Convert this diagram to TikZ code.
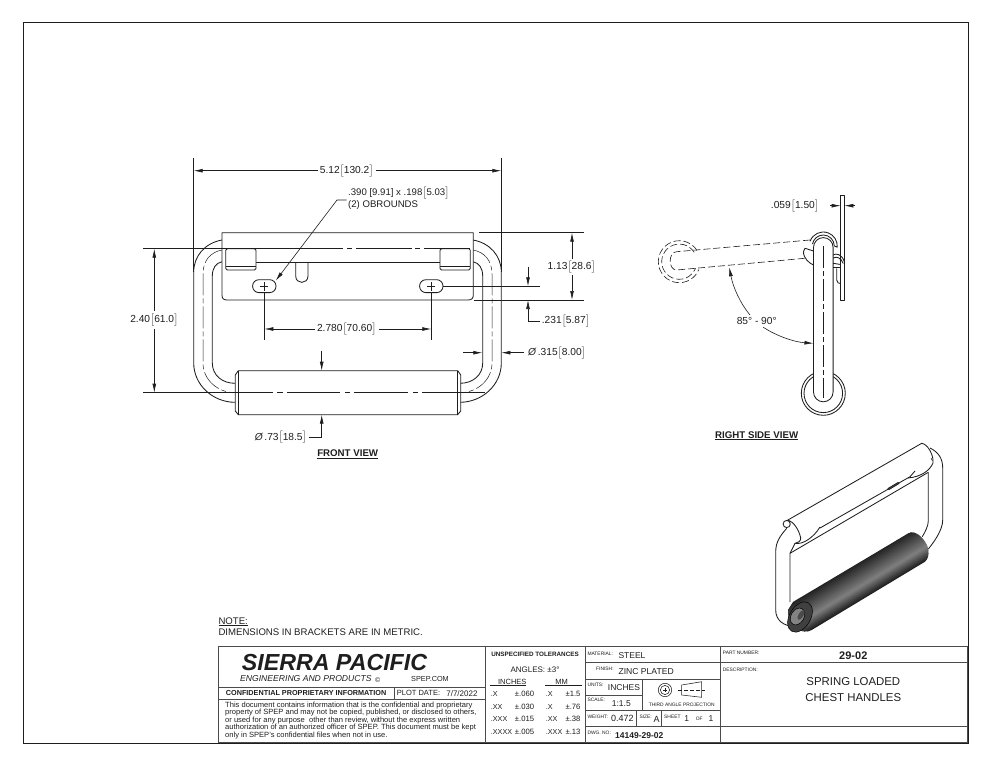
\documentclass[tikz,border=0pt]{standalone}
\usepackage{fontspec}
\setmainfont{Liberation Sans}
\usetikzlibrary{arrows.meta}
\definecolor{ink}{HTML}{1E1E1E}
\tikzset{
  lab/.style={inner sep=0pt,text=ink},
  part/.style={draw=ink,line width=0.85pt,line join=round},
  thin part/.style={draw=ink,line width=0.55pt},
  dimline/.style={draw=ink,line width=0.6pt},
  tip/.style={dimline,-{Latex[length=9pt,width=3.8pt]}},
  hid/.style={draw=ink,line width=0.6pt,dash pattern=on 7pt off 3pt},
  chain/.style={draw=ink,line width=0.5pt,dash pattern=on 22pt off 3pt on 5pt off 3pt},
  rule/.style={draw=ink!80,line width=0.8pt},
}
\newcommand{\lbl}[5]{\node[lab,anchor=#3,font=\fontsize{#4}{#4}\selectfont] (#1) at (#2) {#5};}
\newcommand{\bk}[1]{$\big[$#1$\big]$}
\newcommand{\halfhandle}{%
  \draw[part] (222,240) .. controls (205,243) and (193.7,256) .. (193.7,272) -- (193.7,363)
     .. controls (193.7,385) and (213,402.3) .. (235,402.3);
  \draw[part] (222,261.7) .. controls (216,263) and (212.3,268) .. (212.3,276) -- (212.3,363)
     .. controls (212.3,375) and (222,383.3) .. (235,383.3);
  \draw[chain] (222,250) .. controls (211,252) and (203,260) .. (203,274) -- (203,363)
     .. controls (203,380) and (218,392.7) .. (235,392.7);
}
\newcommand{\tab}[1]{%
  \draw[part,fill=white,rounded corners=1.5pt] (#1,248.7) rectangle +(30.3,21.3);
  \draw[part] (#1,266.7) -- +(30.3,0);
}
\newcommand{\obround}[1]{%
  \draw[part,fill=white,rounded corners=6.3pt] (#1-11.7,279.7) rectangle (#1+11.7,292.6);
  \draw[dimline] (#1-4,286.2) -- (#1+4,286.2) (#1,282) -- (#1,290.5);
}
\begin{document}
\begin{tikzpicture}[x=1pt,y=-1pt]
\useasboundingbox (0,0) rectangle (990,765);
\draw[draw=ink,line width=0.9pt] (23,22) rectangle (968,743);

%% ---------- FRONT VIEW ----------
\halfhandle
\begin{scope}[shift={(695,0)},xscale=-1]\halfhandle\end{scope}
% plate
\draw[part,fill=white] (222,232.7) -- (473.3,232.7) -- (473.3,295) .. controls (473.3,298.5) and (471.5,300) .. (468,300)
   -- (227,300) .. controls (223.5,300) and (222,298.5) .. (222,295) -- cycle;
\draw[part] (256,262.7) -- (440,262.7);
\tab{225.7}
\tab{440}
\draw[part] (295.7,262.7) -- (295.7,276) .. controls (295.7,284.5) and (308,284.5) .. (308,276) -- (308,262.7);
\obround{264.3}
\obround{431.3}
% sleeve
\draw[part,fill=white] (238.3,370.7) -- (457.7,370.7) -- (460.7,375) -- (460.7,411) -- (457.7,414.7)
   -- (238.3,414.7) -- (235.3,411) -- (235.3,375) -- cycle;
\draw[part] (238.3,370.7) -- (238.3,414.7) (457.7,370.7) -- (457.7,414.7);
% centre lines
\draw[dimline] (143,248.7) -- (343,248.7) (347,248.7) -- (352,248.7) (356,248.7) -- (412,248.7) (415,248.7) -- (420,248.7) (424,248.7) -- (470,248.7);
\draw[dimline] (143,392.7) -- (273,392.7) (277,392.7) -- (283,392.7) (287,392.7) -- (340,392.7) (345,392.7) -- (350,392.7) (354,392.7) -- (408,392.7) (413,392.7) -- (418,392.7) (422,392.7) -- (485,392.7);
% extension lines
\draw[dimline] (193.7,158) -- (193.7,272) (501.3,158) -- (501.3,272);
\draw[dimline] (479,232.7) -- (584,232.7) (474,300) -- (584,300);
\draw[dimline] (443,286.3) -- (540,286.3);
\draw[dimline] (264.3,293) -- (264.3,340) (431.3,293) -- (431.3,340);
% labels and dimensions
\lbl{d512}{346.7,170.7}{center}{10.2}{5.12\bk{130.2}}
\draw[tip,shorten <=2pt] (d512.west) -- (193.7,170.7);
\draw[tip,shorten <=2pt] (d512.east) -- (501.3,170.7);
\lbl{dobl}{348,192.7}{west}{9.6}{.390 [9.91] x .198\bk{5.03}}
\lbl{dobr}{348,205}{west}{9.6}{(2) OBROUNDS}
\draw[tip] (346.7,200) -- (337,200) -- (275.7,280.7);
\lbl{d240}{154.3,320}{center}{10.2}{2.40\bk{61.0}}
\draw[tip,shorten <=3pt] (d240.north) -- (154.3,248.7);
\draw[tip,shorten <=3pt] (d240.south) -- (154.3,392.7);
\lbl{d113}{571.7,266.7}{center}{10.2}{1.13\bk{28.6}}
\draw[tip,shorten <=2pt] (d113.north -| 572,258) -- (572,232.7);
\draw[tip,shorten <=2pt] (d113.south -| 572,275) -- (572,300);
\draw[tip] (528,266.7) -- (528,286.3);
\lbl{d231}{541.7,321}{west}{10.2}{.231\bk{5.87}}
\draw[tip] (d231.west) ++(-1.5,0) -- (528,321) -- (528,300);
\lbl{d278}{346.7,329}{center}{10.2}{2.780\bk{70.60}}
\draw[tip,shorten <=2pt] (d278.west) -- (264.3,329);
\draw[tip,shorten <=2pt] (d278.east) -- (431.3,329);
\lbl{d315}{528,352.7}{west}{10.2}{{\itshape Ø}\,.315\bk{8.00}}
\draw[tip,shorten <=4pt] (d315.west) -- (501.3,352.7);
\draw[tip] (463,352.7) -- (482.3,352.7);
\draw[tip] (321.7,350.7) -- (321.7,370.7);
\lbl{d73}{307,437.5}{east}{10.2}{{\itshape Ø}\,.73\bk{18.5}}
\draw[tip,shorten <=2pt] (d73.east) -- (321.7,437.5) -- (321.7,414.7);
\lbl{vfront}{347.7,454}{center}{9.7}{\bfseries\underline{FRONT VIEW}}

%% ---------- RIGHT SIDE VIEW ----------
% swung position
\draw[hid] (679.3,261.7)++(328:21) arc[start angle=328,end angle=22,radius=21];
\draw[hid] (679.3,261.7)++(328:17.6) arc[start angle=328,end angle=22,radius=17.6];
\draw[hid] (810,240) -- (676.7,251.7) .. controls (668,252) and (668,270) .. (676.7,270) -- (808,258);
% sleeve end
\draw[part,fill=white] (823.3,393.3) circle[radius=22];
\draw[part,fill=white] (823.3,393.3) circle[radius=19.3];
% bar
\draw[part,fill=white] (813.5,247.4) arc[start angle=180,end angle=360,radius=9.8] -- (833.1,392)
   arc[start angle=0,end angle=180,radius=9.8] -- cycle;
\draw[chain] (823.3,246) -- (823.3,398);
% hinge
\draw[part,fill=white] (805,248.3) .. controls (802.5,252) and (803,255) .. (806.7,260) .. controls (809,262.5) and (811,264) .. (813.5,265) -- (813.5,251) -- cycle;
\draw[part] (810.1,241.2) arc[start angle=200,end angle=365,radius=14] -- (834.3,246)
   arc[start angle=0,end angle=-170,radius=11];
% plate
\draw[part,fill=white] (840.7,195) rectangle (844.3,300);
\draw[part] (833.1,255) .. controls (836,253) and (842,254) .. (844.3,261.7);
\draw[part] (833.1,258) .. controls (837,256) and (841,258) .. (843.3,263.5);
\draw[part] (833.1,263.3) -- (840.7,264.5);
\draw[part] (836.7,268.3) -- (836.7,280) .. controls (836.7,283) and (839,283.5) .. (840.7,283.5);
\draw[part] (833.1,267.7) -- (840.7,267.7);
% dimensions
\lbl{d059}{795,205.7}{center}{10.2}{.059\bk{1.50}}
\draw[tip] (830,205.7) -- (840.7,205.7);
\draw[tip] (855,205.7) -- (844.3,205.7);
\lbl{dang}{756.7,320.7}{center}{10.2}{85° - 90°}
\draw[tip] (750,315) .. controls (740,303) and (733,287) .. (729.3,267.3);
\draw[tip] (763.3,327.3) .. controls (775,335) and (793,342) .. (813.5,343.3);
\lbl{vside}{756.7,435.7}{center}{9.7}{\bfseries\underline{RIGHT SIDE VIEW}}

%% ---------- ISOMETRIC VIEW ----------
\draw[part] (786.7,528.3) .. controls (780,536) and (775.7,542) .. (775.7,552) -- (775.7,610)
   .. controls (775.7,620) and (783,626) .. (795,626.7);
\draw[part] (795,543.3) -- (790,553.3) -- (790,602);
\draw[part] (930,448) .. controls (938,452) and (942.7,458) .. (942.7,468) -- (942.7,520) .. controls (942.7,530) and (934,542) .. (928.3,549);
\draw[part] (928.3,472.3) -- (928.3,521) .. controls (928.3,526) and (925,532) .. (922.3,536.7);
\draw[part] (790,553.3) -- (928.3,472.3);
\draw[part] (786.7,520.7) -- (921.7,443.3) .. controls (928,444) and (934,456) .. (933,463) .. controls (930,470) and (922,476.7) .. (908,478);
\draw[part] (820,528) -- (910,476.7) -- (915,471);
\draw[part] (788,520) .. controls (794,522) and (799,530) .. (800.7,538) .. controls (801,541) and (798,543) .. (795,543.3) .. controls (803,545) and (814,537) .. (820,527);
\draw[part] (786.7,524) circle[radius=3.6];
\draw[thin part] (931,458) -- (932.5,461);
\draw[part,fill=ink!50] (888,488.5) -- (898,482.5) -- (899,483.5) -- (889,489.5) -- cycle;
% sleeve
\begin{scope}
\clip (793,602) -- (908.3,533.3) .. controls (916,529) and (926,540) .. (928.3,549) .. controls (929,555) and (928,559) .. (925,561.7)
   -- (811.7,630) .. controls (803,635) and (787,628) .. (788,610) -- cycle;
\foreach \t in {-18,-16.5,...,18} {
  \pgfmathsetmacro{\p}{(\t<5)?(90-(\t+18)/23*40):(50+(\t-5)/13*42)}
  \draw[draw=black!\p!white,line width=2pt] ({801.7+0.515*\t-0.857*30},{616.5+0.857*\t+0.515*30}) -- ({916.7+0.515*\t+0.857*30},{547.5+0.857*\t-0.515*30});
}
\end{scope}
\draw[draw=black,line width=0.5pt,fill=ink!85,rotate around={59:(800,617)}] (800,617) ellipse[x radius=16.5,y radius=10.5];
\draw[draw=black,line width=0.5pt,fill=ink!55,rotate around={59:(797.5,616.5)}] (797.5,616.5) ellipse[x radius=9,y radius=6.5];
\draw[draw=none,fill=ink!80,rotate around={59:(801,615)}] (801,615) ellipse[x radius=5.5,y radius=2.5];

%% ---------- NOTE ----------
\lbl{noteh}{218.3,621.7}{west}{9.6}{\underline{NOTE:}}
\lbl{notet}{218.3,632.3}{west}{9.6}{DIMENSIONS IN BRACKETS ARE IN METRIC.}

%% ---------- TITLE BLOCK ----------
\draw[rule] (218.3,646.5) rectangle (967.5,742.5);
\draw[rule] (218.3,687.3) -- (485,687.3) (218.3,699.3) -- (485,699.3) (394,687.3) -- (394,699.3);
\draw[rule] (485,646.5) -- (485,742.5) (585.3,646.5) -- (585.3,742.5) (720.7,646.5) -- (720.7,742.5);
\draw[rule] (585.3,662.7) -- (967.5,662.7) (585.3,679.3) -- (720.7,679.3) (585.3,710.7) -- (720.7,710.7) (585.3,726.7) -- (967.5,726.7);
\draw[rule] (642.7,679.3) -- (642.7,710.7) (585.3,695) -- (642.7,695);
\draw[rule] (636.7,710.7) -- (636.7,726.7) (661,710.7) -- (661,726.7);
\lbl{sierra}{241.7,662.3}{west}{23.2}{\bfseries\itshape SIERRA PACIFIC}
\lbl{engin}{240,679}{west}{8.6}{\itshape ENGINEERING AND PRODUCTS}
\lbl{copyr}{377.7,680}{center}{7}{©}
\lbl{spep}{430,679}{center}{7.3}{SPEP.COM}
\lbl{conf}{225.7,693.3}{west}{7.26}{\bfseries CONFIDENTIAL PROPRIETARY INFORMATION}
\lbl{plot}{396.7,693.3}{west}{7.5}{PLOT DATE:}
\lbl{plotd}{477.7,693.3}{east}{8}{7/7/2022}
\lbl{bodya}{225,705.3}{west}{7.55}{This document contains information that is the confidential and proprietary}
\lbl{bodyb}{225,712.6}{west}{7.55}{property of SPEP and may not be copied, published, or disclosed to others,}
\lbl{bodyc}{225,720.3}{west}{7.55}{or used for any purpose\ \ other than review, without the express written}
\lbl{bodyd}{225,728}{west}{7.55}{authorization of an authorized officer of SPEP. This document must be kept}
\lbl{bodye}{225,735.7}{west}{7.55}{only in SPEP's confidential files when not in use.}
% tolerances
\lbl{unspec}{535,654}{center}{6.3}{\bfseries UNSPECIFIED TOLERANCES}
\lbl{angles}{535,669.3}{center}{8}{ANGLES: ±3°}
\lbl{inch}{512.3,681.5}{center}{7.5}{INCHES}
\lbl{mm}{561.7,681.5}{center}{7.5}{MM}
\draw[dimline] (490,685.2) -- (526,685.2) (545,685.2) -- (581.7,685.2);
\lbl{ta}{490.7,694}{west}{7.2}{.X}
\lbl{tb}{490.7,706.7}{west}{7.2}{.XX}
\lbl{tc}{490.7,719}{west}{7.2}{.XXX}
\lbl{td}{490.7,732.3}{west}{7.2}{.XXXX}
\lbl{tae}{534.3,694}{east}{7.7}{±.060}
\lbl{tbe}{534.3,706.7}{east}{7.7}{±.030}
\lbl{tce}{534.3,719}{east}{7.7}{±.015}
\lbl{tde}{534.3,732.3}{east}{7.7}{±.005}
\lbl{ua}{545.7,694}{west}{7.2}{.X}
\lbl{ub}{545.7,706.7}{west}{7.2}{.X}
\lbl{uc}{545.7,719}{west}{7.2}{.XX}
\lbl{ud}{545.7,732.3}{west}{7.2}{.XXX}
\lbl{uae}{580.7,694}{east}{7.7}{±1.5}
\lbl{ube}{580.7,706.7}{east}{7.7}{±.76}
\lbl{uce}{580.7,719}{east}{7.7}{±.38}
\lbl{ude}{580.7,732.3}{east}{7.7}{±.13}
% material column
\lbl{matl}{587.3,654}{west}{4.9}{MATERIAL:}
\lbl{matv}{618.3,656}{west}{8.5}{STEEL}
\lbl{finl}{596,669.3}{west}{4.9}{FINISH:}
\lbl{finv}{618.3,671.7}{west}{8.6}{ZINC PLATED}
\lbl{unil}{587.3,685}{west}{4.9}{UNITS:}
\lbl{univ}{607.7,687.7}{west}{8.5}{INCHES}
\lbl{scal}{587.3,700}{west}{4.9}{SCALE:}
\lbl{scav}{611.7,703.3}{west}{8.5}{1:1.5}
\lbl{third}{681.7,705}{center}{4.9}{THIRD ANGLE PROJECTION}
\draw[thin part] (665,690) circle[radius=6.7] (665,690) circle[radius=4.6];
\draw[dimline,line width=0.4pt] (663,690) -- (667,690) (665,688) -- (665,692);
\draw[thin part] (681.7,685) -- (701.7,681.7) -- (701.7,697.3) -- (681.7,695) -- cycle;
\draw[dimline,dash pattern=on 4pt off 2pt] (678,690) -- (705,690);
\lbl{weil}{587.3,716.7}{west}{4.9}{WEIGHT:}
\lbl{weiv}{611,718.3}{west}{9}{0.472}
\lbl{sizl}{639.3,716.7}{west}{4.9}{SIZE:}
\lbl{sizv}{656.7,719.3}{center}{9}{A}
\lbl{shel}{664,716.7}{west}{4.9}{SHEET}
\lbl{shea}{686.7,719}{center}{8.5}{1}
\lbl{sheo}{699.3,719}{center}{4.9}{OF}
\lbl{sheb}{711,719}{center}{8.5}{1}
\lbl{dwgl}{587.3,732.7}{west}{4.9}{DWG. NO:}
\lbl{dwgv}{615,736}{west}{8.5}{\bfseries 14149-29-02}
% right block
\lbl{parl}{722.7,653.3}{west}{4.9}{PART NUMBER:}
\lbl{parv}{853.3,655.3}{center}{11}{\bfseries 29-02}
\lbl{desl}{722.7,670}{west}{4.9}{DESCRIPTION:}
\lbl{desa}{853.3,681.3}{center}{11.4}{SPRING LOADED}
\lbl{desb}{853.3,697.7}{center}{11.4}{CHEST HANDLES}
\end{tikzpicture}
\end{document}
